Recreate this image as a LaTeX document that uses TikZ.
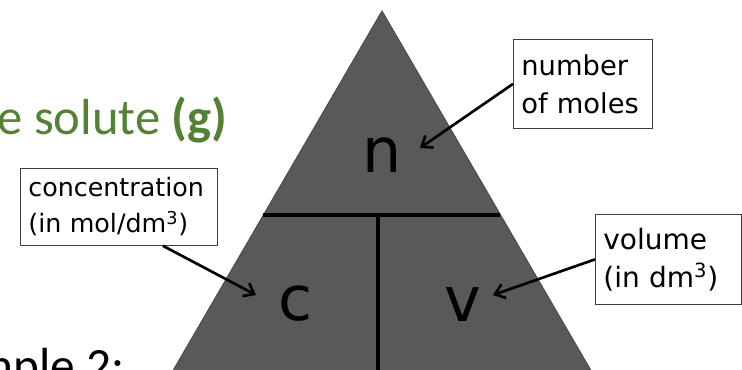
\documentclass[tikz,border=0pt]{standalone}
\usepackage{fontspec}
\setmainfont{Carlito}
\newfontfamily\labelfont{DejaVu Sans}
\usetikzlibrary{arrows.meta}

\definecolor{solutegreen}{HTML}{548235}
\definecolor{trianglegrey}{HTML}{595959}

\begin{document}
\begin{tikzpicture}[x=0.75pt, y=-0.75pt,
    infobox/.style={draw=black!75, line width=0.6pt, fill=white, align=left, anchor=north west, inner ysep=0pt},
    pointer/.style={-{Straight Barb[length=7pt, width=11pt]}, line width=2pt},
    divider/.style={line width=2.5pt},
    letter/.style={font=\labelfont\fontsize{46.5}{50}\selectfont, inner sep=0pt, anchor=base}]

    % Fix the frame of the slide cut-out
    \useasboundingbox (0,0) rectangle (742,370);
    \clip (0,0) rectangle (742,370);

    % Define the corners of the triangle
    \coordinate (apex) at (382,11);
    \coordinate (left) at (171,374);
    \coordinate (right) at (593,374);

    % Draw the filled triangle
    \draw[fill=trianglegrey, draw=black!70, line width=0.75pt] (apex) -- (right) -- (left) -- cycle;

    % Draw the dividers between n, c and v
    \coordinate (hl) at (263,215);
    \coordinate (hr) at (500,215);
    \coordinate (mid) at (378,215);
    \coordinate (foot) at (378,374);
    \draw[divider] (hl) -- (hr);
    \draw[divider] (mid) -- (foot);

    % Letters inside the triangle
    \node[letter] (n) at (382,173) {n};
    \node[letter] (c) at (296,320) {c};
    \node[letter] (v) at (463,321) {v};

    % Slide text behind the triangle
    \node[font=\fontsize{38}{42}\selectfont, text=solutegreen, anchor=base east, inner sep=0pt] (title) at (228,135) {e solute \textbf{(g)}};
    \node[font=\fontsize{37}{40}\selectfont, anchor=base east, inner sep=0pt] (example) at (125,382) {nple 2:};

    % Label boxes
    \node[infobox, font=\labelfont\fontsize{19}{27}\selectfont, inner xsep=6pt, text width=135.75pt, minimum height=57.75pt] (conc) at (20,168) {concentration\\(in mol/dm\textsuperscript{3})};
    \node[infobox, font=\labelfont\fontsize{20.5}{28.5}\selectfont, inner xsep=6pt, text width=92.25pt, minimum height=66.75pt] (moles) at (513,39) {number\\of moles};
    \node[infobox, font=\labelfont\fontsize{21}{28.5}\selectfont, inner xsep=6pt, text width=97.5pt, minimum height=67.5pt] (volume) at (595,214) {volume\\(in dm\textsuperscript{3})};

    % Arrows from the boxes to the letters
    \coordinate (ctip) at (256,295);
    \coordinate (ntip) at (420,148);
    \coordinate (vtip) at (493,295);
    \draw[pointer] ([xshift=33pt]conc.south) -- (ctip);
    \draw[pointer] (moles.west) -- (ntip);
    \draw[pointer] (volume.west) -- (vtip);

\end{tikzpicture}
\end{document}
